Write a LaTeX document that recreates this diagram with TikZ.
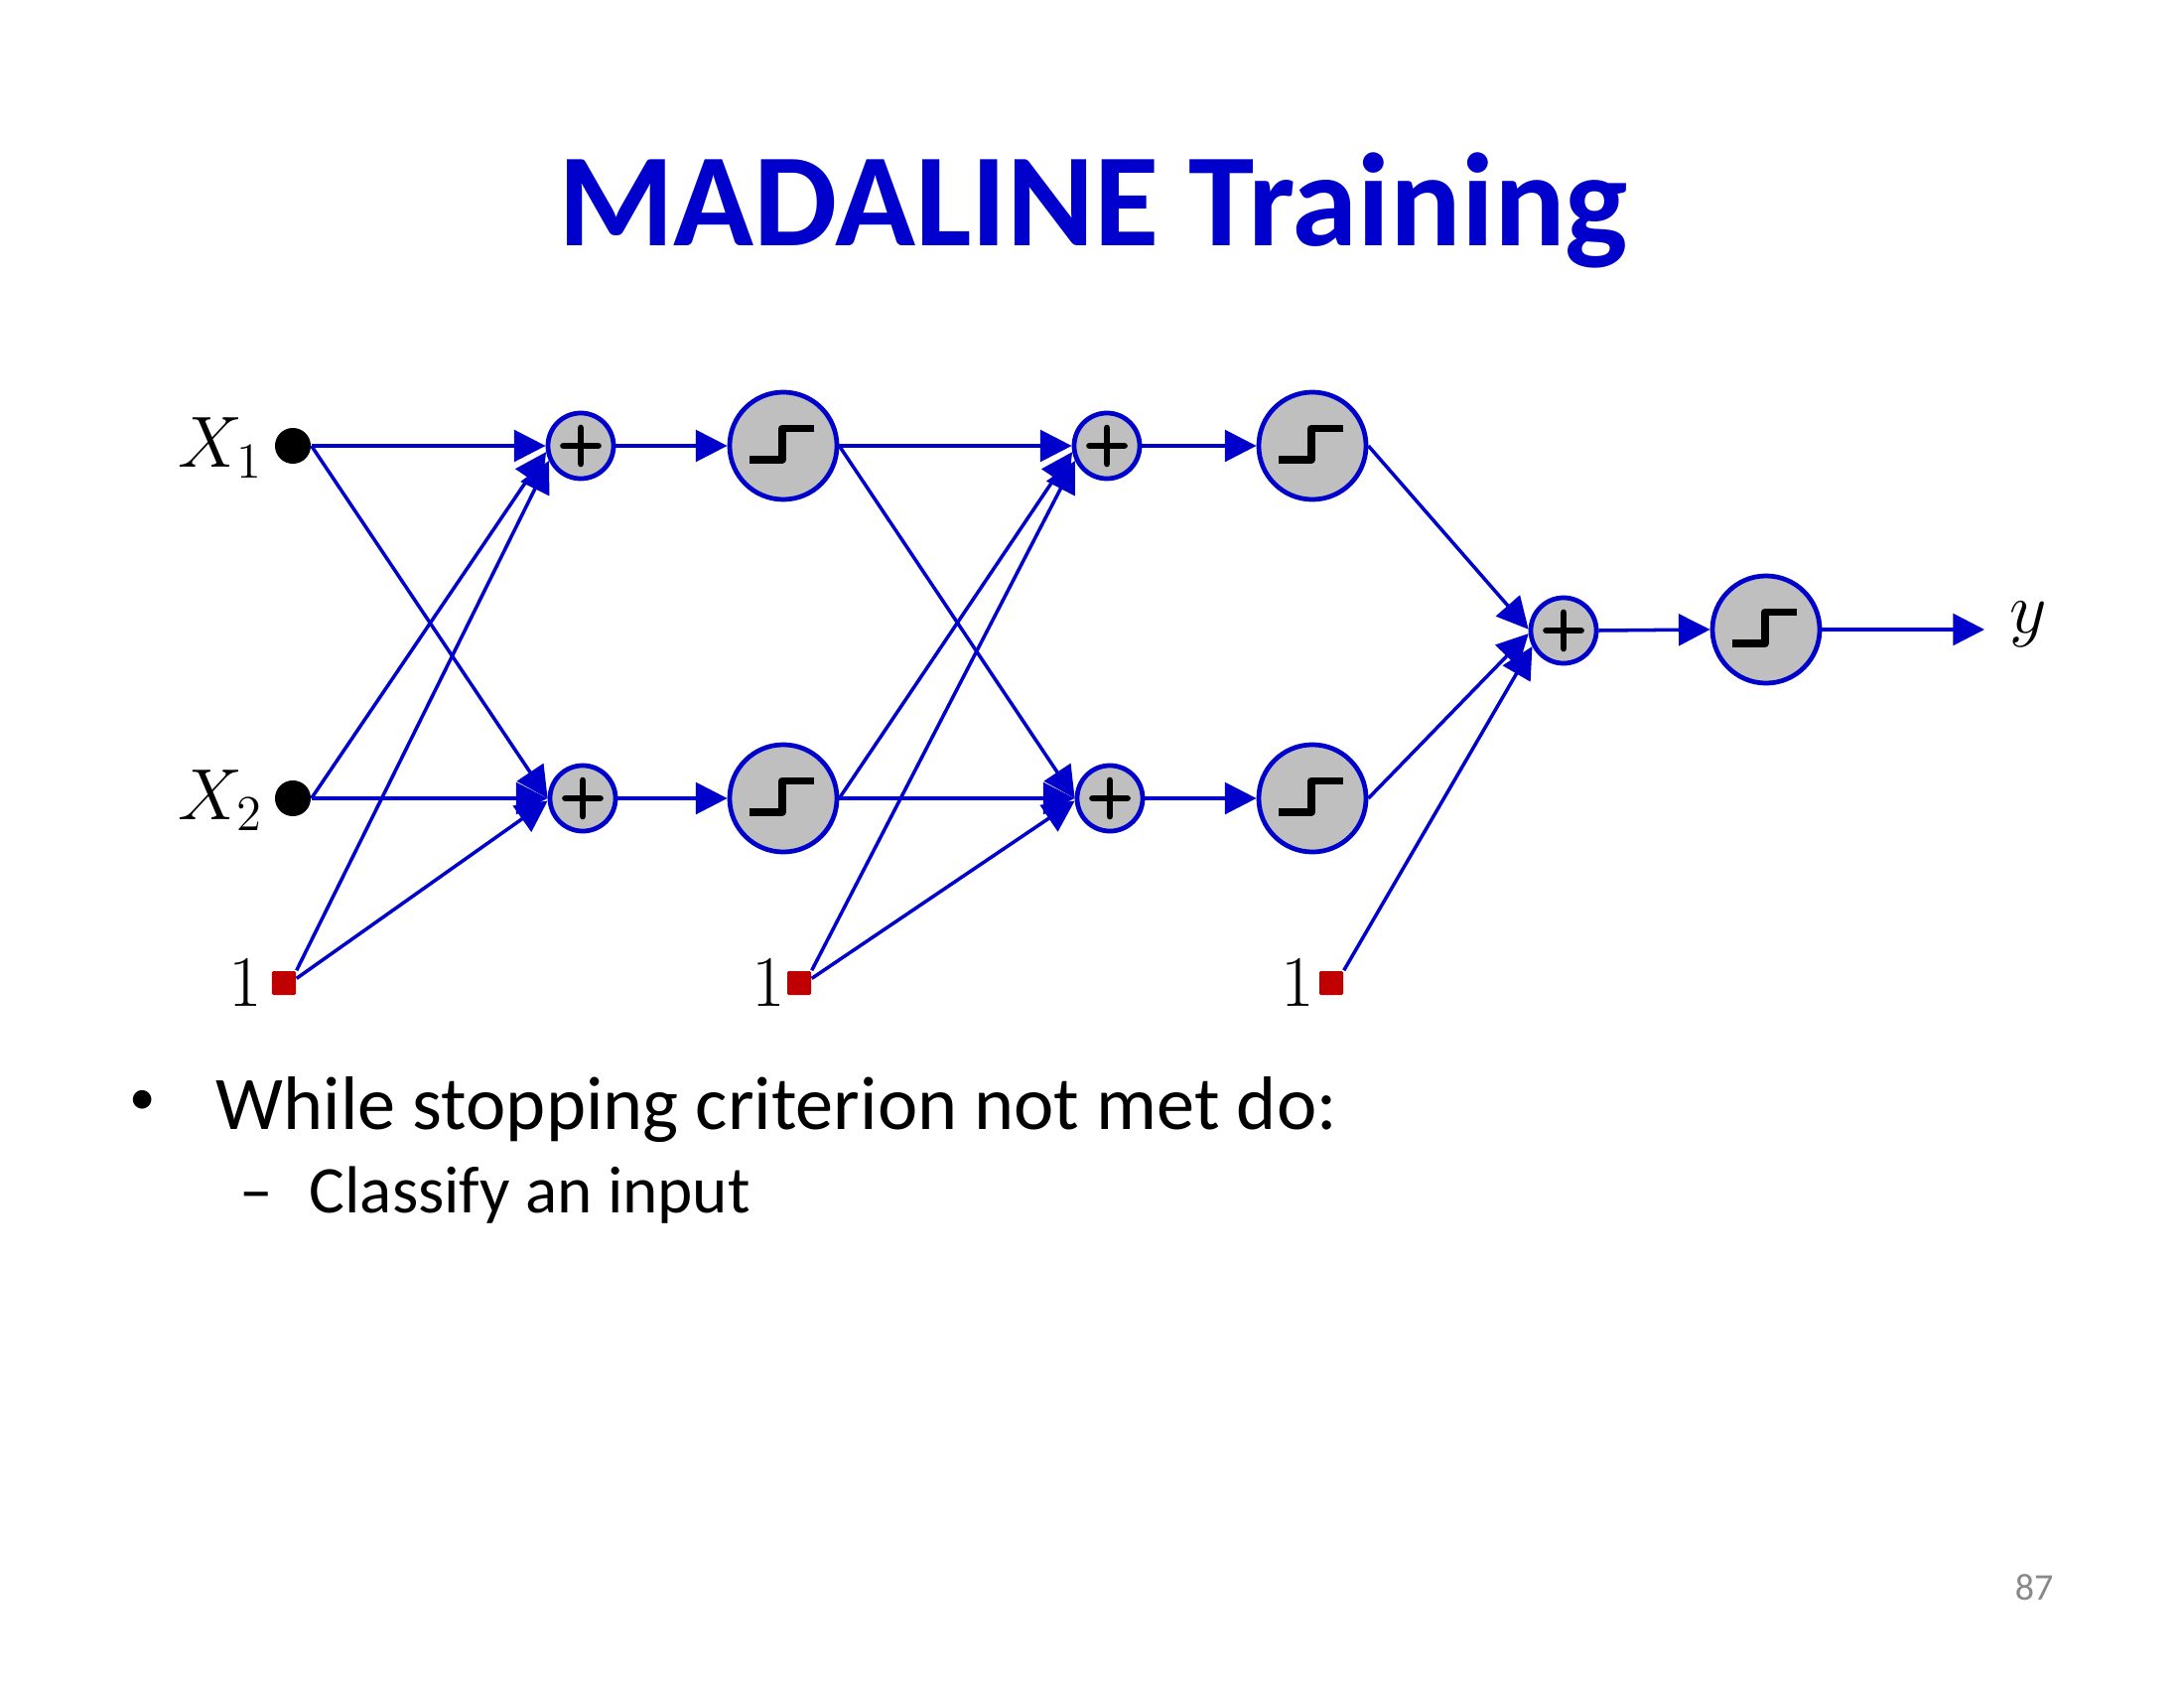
\documentclass[tikz,border=0pt]{standalone}
\usepackage{fontspec}
\setmainfont{Carlito}
\usetikzlibrary{arrows.meta}

\definecolor{netblue}{RGB}{0,0,204}
\definecolor{biasred}{RGB}{192,0,0}
\definecolor{unitgray}{RGB}{191,191,191}
\definecolor{pagegray}{RGB}{137,137,137}

\tikzset{
  sumunit/.style={circle, draw=netblue, fill=unitgray, line width=1.35pt,
    minimum size=0.66cm, inner sep=0pt,
    path picture={
      \draw[black, line width=1.9pt, line cap=round]
        ([xshift=-1.75mm]path picture bounding box.center) -- ++(3.5mm,0)
        ([yshift=-1.8mm]path picture bounding box.center) -- ++(0,3.6mm);
    }},
  stepunit/.style={circle, draw=netblue, fill=unitgray, line width=1.35pt,
    minimum size=1.08cm, inner sep=0pt,
    path picture={
      \draw[black, line width=2.1pt, line join=round]
        ([shift={(-3.4mm,-1.4mm)}]path picture bounding box.center)
        -- ++(3.3mm,0) -- ++(0,3.15mm) -- ++(3.2mm,0);
    }},
  inputdot/.style={circle, fill=black, minimum size=0.36cm, inner sep=0pt},
  biasbox/.style={rectangle, fill=biasred, minimum size=0.24cm, inner sep=0pt,
    rounded corners=0.4pt},
  link/.style={draw=netblue, line width=1.0pt,
    -{Triangle[length=9pt, width=9pt]}},
  mathlabel/.style={font=\fontsize{20}{24}\selectfont, inner sep=0pt},
  numlabel/.style={font=\fontsize{21.5}{26}\selectfont, inner sep=0pt},
  bodytext/.style={inner sep=0pt, font=\fontsize{21.7}{26}\selectfont},
  subtext/.style={inner sep=0pt, font=\fontsize{19.1}{23}\selectfont},
}

\begin{document}
\begin{tikzpicture}[x=0.01cm, y=-0.01cm]
  \useasboundingbox (0,0) rectangle (2200,1700);

  % title
  \node[anchor=base, text=netblue, inner sep=0pt,
        font=\fontsize{38}{44}\selectfont\bfseries] (title) at (1101,248)
        {MADALINE Training};

  % inputs and bias terms
  \node[inputdot] (x1) at (295,449) {};
  \node[inputdot] (x2) at (295,804) {};
  \node[biasbox] (b1) at (286,990) {};
  \node[biasbox] (b2) at (805,990) {};
  \node[biasbox] (b3) at (1341,990) {};

  \node[mathlabel, anchor=east] (lx1) at (266,451) {$X_1$};
  \node[mathlabel, anchor=east] (lx2) at (266,806) {$X_2$};
  \node[numlabel, anchor=east] (lb1) at ([xshift=-0.9mm]b1.west) {$1$};
  \node[numlabel, anchor=east] (lb2) at ([xshift=-0.1mm]b2.west) {$1$};
  \node[numlabel, anchor=east] (lb3) at ([xshift=-0.4mm]b3.west) {$1$};

  % first layer
  \node[sumunit]  (s1a) at (585,449) {};
  \node[sumunit]  (s1b) at (587,804) {};
  \node[stepunit] (h1a) at (789,449) {};
  \node[stepunit] (h1b) at (789,804) {};

  % second layer
  \node[sumunit]  (s2a) at (1115,449) {};
  \node[sumunit]  (s2b) at (1118,804) {};
  \node[stepunit] (h2a) at (1322,449) {};
  \node[stepunit] (h2b) at (1322,804) {};

  % output unit
  \node[sumunit]  (sf) at (1575,635) {};
  \node[stepunit] (hf) at (1779,634) {};
  \coordinate (yend) at (1999,634);
  \node[numlabel, anchor=base west] (ly) at (2024,637) {$y$};

  % connections into the first layer
  \draw[link] (x1.east) -- (s1a.west);
  \draw[link] (x1.east) -- (s1b.west);
  \draw[link] (x2.east) -- (s1a.190);
  \draw[link] (x2.east) -- (s1b.west);
  \draw[link] (b1.north east) -- (s1a.205);
  \draw[link] (b1.20) -- (s1b.184);
  \draw[link] (s1a.east) -- (h1a.west);
  \draw[link] (s1b.east) -- (h1b.west);

  % connections into the second layer
  \draw[link] (h1a.east) -- (s2a.west);
  \draw[link] (h1a.east) -- (s2b.west);
  \draw[link] (h1b.east) -- (s2a.190);
  \draw[link] (h1b.east) -- (s2b.west);
  \draw[link] (b2.north east) -- (s2a.205);
  \draw[link] (b2.20) -- (s2b.184);
  \draw[link] (s2a.east) -- (h2a.west);
  \draw[link] (s2b.east) -- (h2b.west);

  % connections into the output unit
  \draw[link] (h2a.east) -- (sf.178);
  \draw[link] (h2b.east) -- (sf.185);
  \draw[link] (b3.north east) -- (sf.207);
  \draw[link] (sf.east) -- (hf.west);
  \draw[link] (hf.east) -- (yend);

  % bullet text
  \node[inner sep=0pt, font=\fontsize{15}{18}\selectfont] (bul1) at (144,1110) {\textbullet};
  \node[bodytext, anchor=base west] (txt1) at (217,1137)
        {While stopping criterion not met do:};
  \node[subtext, anchor=base west] (bul2) at (241,1221) {–};
  \node[subtext, anchor=base west] (txt2) at (311,1221) {Classify an input};

  % page number
  \node[inner sep=0pt, text=pagegray, font=\fontsize{10.8}{13}\selectfont] (pg)
        at (2049,1599) {87};
\end{tikzpicture}
\end{document}
